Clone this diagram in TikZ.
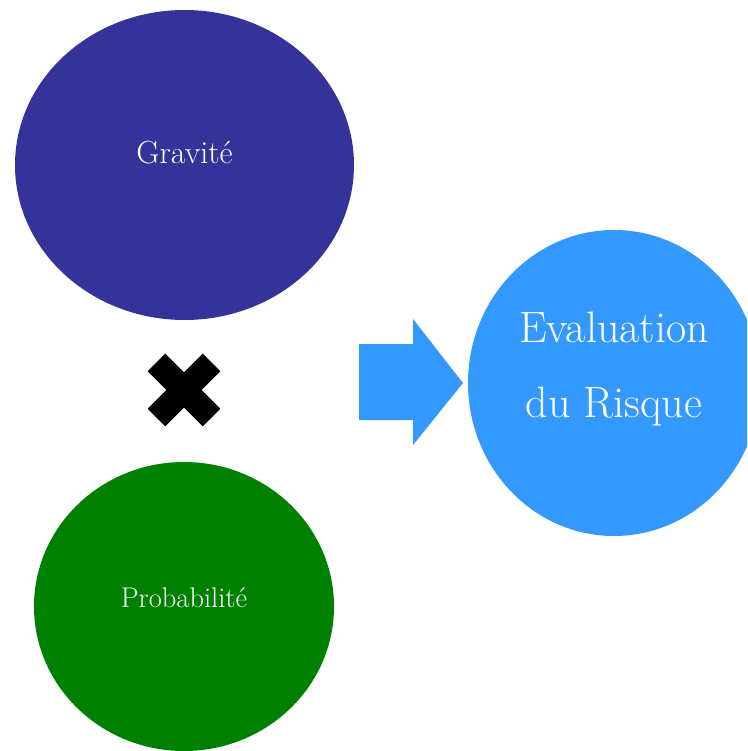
\documentclass[tikz,border=0pt]{standalone}
\usepackage{fontspec}
\usepackage{tikz}
\usetikzlibrary{shapes.geometric,positioning}
\usepackage{xcolor}
\definecolor{gravcol}{HTML}{333399}
\definecolor{probcol}{HTML}{008000}
\definecolor{riskcol}{HTML}{3399FF}

\begin{document}
\begin{tikzpicture}[
  x=1pt, y=-1pt,
  blob/.style={ellipse, inner sep=0pt, draw=none},
  lbl/.style={text=white, font=\fontsize{32}{38}\selectfont},
  bar/.style={fill=black, inner sep=0pt, minimum width=78pt, minimum height=25pt}
]
\useasboundingbox (0,0) rectangle (747,751);
\clip (0,0) rectangle (747,751);
\node[blob, fill=gravcol, minimum width=339pt, minimum height=310pt,
  label={[lbl, yshift=12pt]center:Gravit\'e}] (gravite) at (184.5,165) {};
\node[blob, fill=probcol, minimum width=300pt, minimum height=289pt,
  label={[lbl, font=\fontsize{28.5}{34}\selectfont, yshift=8.5pt]center:Probabilit\'e}] (proba) at (184,606.5) {};
\node[blob, fill=riskcol, minimum width=292pt, minimum height=306pt] (risque) at (614,383) {};
\node[text=white, align=center, font=\fontsize{44}{75}\selectfont] (risquetxt)
  at ([yshift=13.5pt]risque.center) {Evaluation\\du Risque};
% multiplication sign
\node[bar, rotate=45] (crossa) at (184,390) {};
\node[bar, rotate=-45] (crossb) at (184,390) {};
% block arrow
\fill[riskcol] (359,344) -- (413,344) -- (413,319) -- (463,383) -- (413,445) -- (413,420) -- (359,420) -- cycle;
\end{tikzpicture}
\end{document}
